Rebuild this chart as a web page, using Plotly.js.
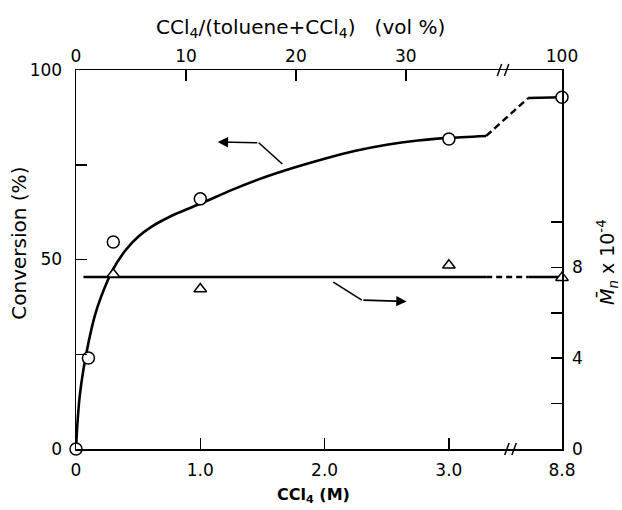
<!DOCTYPE html>
<html><head><meta charset="utf-8">
<script src="https://cdn.plot.ly/plotly-3.0.1.min.js"></script>
<style>html,body{margin:0;padding:0;background:#fff;}#chart{width:622px;height:510px;}</style>
</head><body><div id="chart"></div>
<script>
// ---- data (CCl4 in M, conversion in %, Mn x 1e-4) ----
const convX = [0, 0.1, 0.3, 1.0, 3.0, 8.8];
const convY = [0, 24, 54.6, 66, 81.8, 92.8];
const curveX = [0, 0.01, 0.03, 0.06, 0.1, 0.15, 0.2, 0.3, 0.4, 0.5, 0.6, 0.8, 1.0, 1.25, 1.5, 1.75, 2.0, 2.25, 2.5, 2.75, 3.0, 3.3];
const curveY = [0, 6, 14, 21, 28, 35, 40, 47.5, 52.5, 56, 58.5, 62, 64.7, 68.3, 71.5, 74.2, 76.6, 78.7, 80.3, 81.4, 82.1, 82.6];
const curveDashX = [3.3, 5.2];
const curveDashY = [82.6, 92.6];
const curveEndX = [5.2, 8.8];
const curveEndY = [92.6, 92.8];
const mnX = [0.3, 1.0, 3.0, 8.8];
const mnY = [7.7, 7.05, 8.1, 7.55];
const mnLineX = [0.06, 3.3];
const mnLineY = [7.58, 7.58];
const mnDashX = [3.3, 5.2];
const mnDashY = [7.58, 7.58];
const mnEndX = [5.2, 8.8];
const mnEndY = [7.58, 7.58];
const bottomTickVals = [0, 1, 2, 3, 8.8];
const bottomTickText = ['0', '1.0', '2.0', '3.0', '8.8'];
const topTickVals = [0, 10, 20, 30, 100];
const topTickText = ['0', '10', '20', '30', '100'];
const leftTickVals = [0, 50, 100];
const leftMinorVals = [25, 75];
const rightTickVals = [0, 4, 8];
const rightMinorVals = [2, 6, 10];

// ---- broken-axis mappings ----
const BX = 3.51, XEND = 3.91, XMAX = 8.8;
const bx = m => m <= BX ? m : BX + (m - BX) * (XEND - BX) / (XMAX - BX);
const TB = 39, TEND = 44.2, TMAX = 100;
const tx = v => v <= TB ? v : TB + (v - TB) * (TEND - TB) / (TMAX - TB);

const F = 'DejaVu Sans, sans-serif';
const K = '#000';

const traces = [
  {x: curveX.map(bx), y: curveY, mode: 'lines', line: {color: K, width: 2.6, shape: 'spline', smoothing: 0.6}, xaxis: 'x', yaxis: 'y'},
  {x: curveDashX.map(bx), y: curveDashY, mode: 'lines', line: {color: K, width: 2.4, dash: '7px,4px'}, xaxis: 'x', yaxis: 'y'},
  {x: curveEndX.map(bx), y: curveEndY, mode: 'lines', line: {color: K, width: 2.4}, xaxis: 'x', yaxis: 'y'},
  {x: mnLineX.map(bx), y: mnLineY, mode: 'lines', line: {color: K, width: 2.6}, xaxis: 'x', yaxis: 'y2'},
  {x: mnDashX.map(bx), y: mnDashY, mode: 'lines', line: {color: K, width: 2.4, dash: '6px,4px'}, xaxis: 'x', yaxis: 'y2'},
  {x: mnEndX.map(bx), y: mnEndY, mode: 'lines', line: {color: K, width: 2.4}, xaxis: 'x', yaxis: 'y2'},
  {x: convX.map(bx), y: convY, mode: 'markers', cliponaxis: false,
   marker: {symbol: 'circle', size: 12, color: '#fff', line: {color: K, width: 1.5}}, xaxis: 'x', yaxis: 'y'},
  {x: mnX.map(bx), y: mnY, mode: 'markers', cliponaxis: false,
   marker: {symbol: 'triangle-up', size: 11, color: '#fff', line: {color: K, width: 1.5}}, xaxis: 'x', yaxis: 'y2'},
  {x: [0, TEND], y: [0, 0], mode: 'none', xaxis: 'x2', yaxis: 'y', hoverinfo: 'skip'}
];

const axBase = {showgrid: false, zeroline: false, showline: true, linecolor: K, linewidth: 1.5,
  ticks: 'inside', ticklen: 11, tickwidth: 1.5, tickcolor: K, tickfont: {family: F, size: 17, color: K}};
const minorBase = {ticks: 'inside', ticklen: 11, tickwidth: 1.5, tickcolor: K, showgrid: false};

// break marks
const slash = (xc, yp) => {
  const d = 0.032;
  return [
    {type: 'line', xref: 'x', yref: 'paper', x0: xc - 1.9*d, x1: xc - 0.8*d, y0: yp - 0.016, y1: yp + 0.016, line: {color: K, width: 1.5}},
    {type: 'line', xref: 'x', yref: 'paper', x0: xc - 0.1*d, x1: xc + d, y0: yp - 0.016, y1: yp + 0.016, line: {color: K, width: 1.5}}
  ];
};

const layout = {
  width: 622, height: 510,
  margin: {l: 76, r: 60, t: 70, b: 61},
  paper_bgcolor: '#fff', plot_bgcolor: '#fff',
  showlegend: false,
  font: {family: F, color: K},
  xaxis: Object.assign({}, axBase, {range: [0, XEND], tickvals: bottomTickVals.map(bx), ticktext: bottomTickText, ticklabelstandoff: 5}),
  xaxis2: Object.assign({}, axBase, {range: [0, TEND], overlaying: 'x', side: 'top', anchor: 'y',
    tickvals: topTickVals.map(tx), ticktext: topTickText}),
  yaxis: Object.assign({}, axBase, {range: [0, 100], tickvals: leftTickVals, ticklabelstandoff: 9,
    minor: Object.assign({tickvals: leftMinorVals}, minorBase)}),
  yaxis2: Object.assign({}, axBase, {range: [0, 16.7], overlaying: 'y', side: 'right', anchor: 'x',
    tickvals: rightTickVals, minor: Object.assign({tickvals: rightMinorVals}, minorBase), ticklabelstandoff: 5}),
  shapes: [
    ...slash(3.51, 0),
    ...slash(3.45, 1),
    {type: 'line', xref: 'x', yref: 'y', x0: 1.47, y0: 80.8, x1: 1.66, y1: 75.2, line: {color: K, width: 1.6}},
    {type: 'line', xref: 'x', yref: 'y2', x0: 2.07, y0: 7.35, x1: 2.3, y1: 6.56, line: {color: K, width: 1.6}}
  ],
  annotations: [
    {x: 1.14, y: 81.0, ax: 1.47, ay: 80.8, xref: 'x', yref: 'y', axref: 'x', ayref: 'y', text: '', showarrow: true,
     arrowhead: 2, arrowsize: 1.3, arrowwidth: 1.6, arrowcolor: K},
    {x: 2.66, y: 6.5, ax: 2.3, ay: 6.56, xref: 'x', yref: 'y2', axref: 'x', ayref: 'y2', text: '', showarrow: true,
     arrowhead: 2, arrowsize: 1.3, arrowwidth: 1.6, arrowcolor: K},
    {xref: 'paper', yref: 'paper', x: 0.461, y: 1.111, text: 'CCl<sub>4</sub>/(toluene+CCl<sub>4</sub>)\u00a0\u00a0\u00a0(vol %)',
     showarrow: false, font: {family: F, size: 20, color: K}, xanchor: 'center', yanchor: 'middle'},
    {xref: 'paper', yref: 'paper', x: 0.489, y: -0.124, text: '<b>CCl<sub>4</sub> (M)</b>',
     showarrow: false, font: {family: F, size: 16, color: K}, xanchor: 'center', yanchor: 'middle'},
    {xref: 'paper', yref: 'paper', x: -0.118, y: 0.5435, text: 'Conversion (%)', textangle: -90,
     showarrow: false, font: {family: F, size: 20, color: K}, xanchor: 'center', yanchor: 'middle'},
    {xref: 'paper', yref: 'paper', x: 1.0926, y: 0.4934, text: '<i>M\u0304</i><sub><i>n</i></sub> x 10<sup>-4</sup>', textangle: -90,
     showarrow: false, font: {family: F, size: 19, color: K}, xanchor: 'center', yanchor: 'middle'}
  ]
};

Plotly.newPlot('chart', traces, layout, {displayModeBar: false, staticPlot: true});
</script></body></html>
